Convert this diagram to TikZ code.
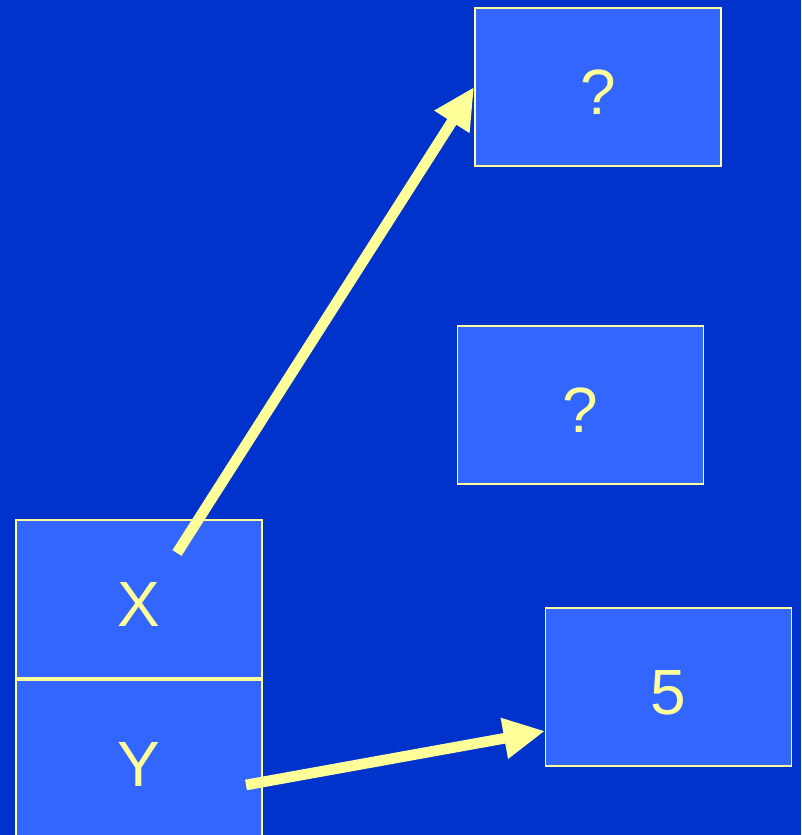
\documentclass[tikz,border=0pt]{standalone}
\usepackage{fontspec}
\setmainfont{Liberation Sans}
\usepackage{xcolor}
\usepackage{tikz}
\usetikzlibrary{arrows.meta, positioning}

\definecolor{slidebg}{HTML}{0033CC}
\definecolor{boxfill}{HTML}{3366FF}
\definecolor{chalk}{HTML}{FFFF99}

\begin{document}
\begin{tikzpicture}[
  x=0.75pt, y=0.75pt,
  box/.style={draw=chalk, fill=boxfill, line width=1.4pt, text=chalk,
    minimum width=184.5pt, minimum height=118.5pt, inner sep=0pt,
    text height=42pt, text depth=0pt,
    font=\fontsize{48}{56}\selectfont},
  arrow/.style={draw=chalk, line width=8pt, line cap=butt,
    -{Triangle[length=31pt, width=29pt]}}
]

% Background
\fill[slidebg] (0,0) rectangle (801,835);
\clip (0,0) rectangle (801,835);
\useasboundingbox (0,0) rectangle (801,835);

% Nodes
\node[box] (q1) at (598,748) {?};
\node[box] (q2) at (580.5,430) {?};
\node[box] (five) at (668.5,148) {5};
\node[box] (xbox) at (139,236) {X};
\node[box, below=0pt of xbox] (ybox) {Y};

% Arrow ends
\coordinate (xtail) at (177,282);
\coordinate (ytail) at (246,50);
\coordinate (fivein) at (545,104);

% Pointers
\draw[arrow] (xtail) -- (q1.west);
\draw[arrow] (ytail) -- (fivein);

\end{tikzpicture}
\end{document}
